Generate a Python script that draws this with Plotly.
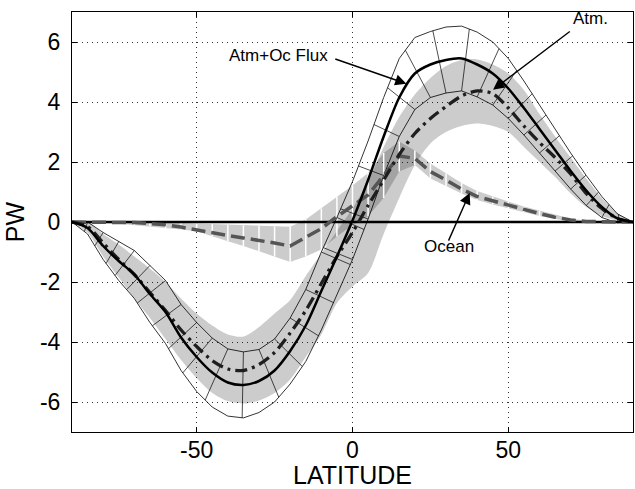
import math
import plotly.graph_objects as go

# ---------------- data ----------------
lat = list(range(-90, 91, 5))

total = [0, -0.2, -0.8, -1.3, -1.75, -2.4, -3.0, -3.85, -4.5, -5.02, -5.35, -5.43, -5.3, -4.95,
         -4.3, -3.45, -2.3, -1.15, 0.05, 1.4, 2.85, 4.15, 4.95, 5.25, 5.4, 5.45, 5.25, 4.95,
         4.45, 3.8, 3.1, 2.4, 1.7, 1.05, 0.5, 0.12, 0]
total_lo = [0, -0.4, -1.25, -1.95, -2.55, -3.35, -4.05, -4.95, -5.65, -6.17, -6.47, -6.53, -6.35,
            -6.0, -5.4, -4.65, -3.6, -2.45, -1.25, 0.1, 1.55, 2.85, 3.75, 4.15, 4.3, 4.37, 4.17,
            3.9, 3.45, 2.9, 2.3, 1.7, 1.1, 0.55, 0.15, -0.03, 0]
total_hi = [0, 0.0, -0.35, -0.65, -0.95, -1.45, -1.95, -2.75, -3.35, -3.87, -4.23, -4.33, -4.25,
            -3.9, -3.2, -2.25, -1.0, 0.15, 1.35, 2.7, 4.15, 5.45, 6.15, 6.35, 6.5, 6.53, 6.33,
            6.0, 5.45, 4.7, 3.9, 3.1, 2.3, 1.55, 0.85, 0.27, 0]

atm = [0, -0.15, -0.7, -1.25, -1.75, -2.35, -2.95, -3.6, -4.15, -4.62, -4.9, -4.95, -4.75, -4.35,
       -3.7, -2.95, -2.05, -1.15, -0.35, 0.55, 1.4, 2.25, 2.95, 3.45, 3.85, 4.2, 4.37, 4.28,
       3.8, 3.2, 2.65, 2.15, 1.6, 0.95, 0.45, 0.12, 0]
atm_lo = [0, -0.35, -1.15, -1.85, -2.55, -3.2, -3.9, -4.6, -5.2, -5.7, -5.97, -6.05, -5.95, -5.7,
          -5.25, -4.5, -3.75, -2.7, -2.15, -1.7, -0.4, 0.8, 1.9, 2.62, 3.0, 3.2, 3.28, 3.2,
          3.0, 2.5, 2.0, 1.5, 0.95, 0.5, 0.2, 0.05, 0]
atm_hi = [0, 0, -0.4, -0.75, -1.15, -1.55, -2.0, -2.55, -3.05, -3.45, -3.75, -3.82, -3.5, -3.05,
          -2.6, -1.8, -1.05, -0.3, 0.45, 1.35, 2.5, 3.5, 4.25, 4.8, 5.2, 5.4, 5.42, 5.25,
          4.95, 4.4, 3.6, 2.85, 2.15, 1.45, 0.8, 0.3, 0]

ocean = [0, 0, 0, 0, -0.02, -0.05, -0.09, -0.17, -0.27, -0.36, -0.45, -0.53, -0.61, -0.7,
         -0.8, -0.52, -0.22, 0.18, 0.55, 0.9, 1.55, 2.2, 2.12, 1.68, 1.4, 1.1, 0.85, 0.7,
         0.55, 0.4, 0.28, 0.16, 0.07, 0.02, 0, 0, 0]
ocean_lo = [0, -0.01, -0.03, -0.06, -0.1, -0.15, -0.2, -0.25, -0.31, -0.47, -0.64, -0.8, -0.98,
            -1.15, -1.33, -1.15, -0.92, -0.48, -0.1, 0.19, 0.8, 1.68, 1.9, 1.45, 1.2, 0.95, 0.73,
            0.58, 0.44, 0.32, 0.2, 0.1, 0.03, 0.0, 0, 0, 0]
ocean_hi = [0, 0, 0, 0, 0, 0, -0.01, -0.03, -0.05, -0.07, -0.09, -0.11, -0.13, -0.15, -0.16,
            0.08, 0.45, 0.83, 1.22, 1.63, 2.3, 2.68, 2.38, 1.95, 1.62, 1.3, 1.03, 0.85, 0.68,
            0.52, 0.38, 0.24, 0.12, 0.04, 0.01, 0, 0]

x_ticks = [-50, 0, 50]
x_ticktext = ["-50", "0", "50"]
y_ticks = [-6, -4, -2, 0, 2, 4, 6]
y_ticktext = ["-6", "-4", "-2", "0", "2", "4", "6"]

# labels: (text, text_lat, text_val, tail_lat, tail_val, head_lat, head_val)
labels = [
    ("Atm+Oc Flux", -23.9, 5.56, -6.0, 5.45, 17.3, 4.61),
    ("Atm.", 76.4, 6.8, 70.2, 6.39, 45.1, 4.41),
    ("Ocean", 30.9, -0.81, 30.6, -0.67, 37.6, 0.97),
]

FONT = "Liberation Sans, Arial, sans-serif"
X_RANGE = [-90, 90]
Y_RANGE = [-7, 7]
PLOT_W, PLOT_H = 561, 420  # plot-area size in px (used only to orient hatch ticks)

fig = go.Figure()

# Atm uncertainty band (gray, no edges)
fig.add_trace(go.Scatter(x=lat + lat[::-1], y=atm_hi + atm_lo[::-1], fill="toself",
                         fillcolor="rgba(0,0,0,0.2)", mode="lines",
                         line=dict(width=0, shape="spline", smoothing=0.8),
                         hoverinfo="skip", showlegend=False))

# Ocean uncertainty band (gray with white quad edges)
fig.add_trace(go.Scatter(x=lat + lat[::-1], y=ocean_hi + ocean_lo[::-1], fill="toself",
                         fillcolor="rgba(0,0,0,0.2)", mode="lines", line=dict(width=0),
                         hoverinfo="skip", showlegend=False))
wx, wy = [], []
for i, la in enumerate(lat):
    if abs(ocean_hi[i] - ocean_lo[i]) > 0.02:
        wx += [la, la, None]
        wy += [ocean_lo[i], ocean_hi[i], None]
fig.add_trace(go.Scatter(x=wx, y=wy, mode="lines", line=dict(color="white", width=1.5),
                         hoverinfo="skip", showlegend=False))

# Atm+Oc band: thin outlines
fig.add_trace(go.Scatter(x=lat, y=total_hi, mode="lines", line=dict(color="black", width=0.8),
                         hoverinfo="skip", showlegend=False))
fig.add_trace(go.Scatter(x=lat, y=total_lo, mode="lines", line=dict(color="black", width=0.8),
                         hoverinfo="skip", showlegend=False))

# hatch ticks: from each inner-edge point, perpendicular (in screen space) to the outer edge
sx = PLOT_W / (X_RANGE[1] - X_RANGE[0])
sy = PLOT_H / (Y_RANGE[1] - Y_RANGE[0])


def to_px(la, v):
    return la * sx, v * sy


def ray_hit(p, d, poly):
    best = None
    for k in range(len(poly) - 1):
        a, b = poly[k], poly[k + 1]
        ex, ey = b[0] - a[0], b[1] - a[1]
        den = d[0] * ey - d[1] * ex
        if abs(den) < 1e-9:
            continue
        t = ((a[0] - p[0]) * ey - (a[1] - p[1]) * ex) / den
        u = ((a[0] - p[0]) * d[1] - (a[1] - p[1]) * d[0]) / den
        if t > 0.5 and -1e-6 <= u <= 1 + 1e-6 and (best is None or t < best):
            best = t
    return best


hx, hy = [], []
n = len(lat)
for i in range(1, n - 1):
    pos = total[i] > 0
    inner = total_lo if pos else total_hi
    outer = total_hi if pos else total_lo
    inner_px = [to_px(lat[k], inner[k]) for k in range(n)]
    outer_px = [to_px(lat[k], outer[k]) for k in range(n)]
    p = inner_px[i]
    tx = inner_px[i + 1][0] - inner_px[i - 1][0]
    ty = inner_px[i + 1][1] - inner_px[i - 1][1]
    L = math.hypot(tx, ty)
    nx, ny = -ty / L, tx / L
    if (outer_px[i][1] - p[1]) * ny + (outer_px[i][0] - p[0]) * nx < 0:
        nx, ny = -nx, -ny
    t = ray_hit(p, (nx, ny), outer_px)
    if t is None or t > 90:
        continue
    q = (p[0] + t * nx, p[1] + t * ny)
    hx += [p[0] / sx, q[0] / sx, None]
    hy += [p[1] / sy, q[1] / sy, None]
fig.add_trace(go.Scatter(x=hx, y=hy, mode="lines", line=dict(color="black", width=0.7),
                         hoverinfo="skip", showlegend=False))

# zero line
fig.add_trace(go.Scatter(x=[lat[0], lat[-1]], y=[0, 0], mode="lines",
                         line=dict(color="black", width=2.5), hoverinfo="skip", showlegend=False))

# Ocean mean (dashed gray)
fig.add_trace(go.Scatter(x=lat, y=ocean, mode="lines",
                         line=dict(color="#555555", width=3.5, dash="14px,6px"),
                         showlegend=False))
# Atm mean (dash-dot)
fig.add_trace(go.Scatter(x=lat, y=atm, mode="lines",
                         line=dict(color="#1e1e1e", width=3.3, dash="12px,5px,3px,5px",
                                   shape="spline", smoothing=0.8),
                         showlegend=False))
# Atm+Oc mean (thick black)
fig.add_trace(go.Scatter(x=lat, y=total, mode="lines",
                         line=dict(color="black", width=2.5, shape="spline", smoothing=0.8),
                         showlegend=False))

for text, tx_, ty_, ax, ay, hx_, hy_ in labels:
    fig.add_annotation(x=tx_, y=ty_, text=text, showarrow=False,
                       font=dict(family=FONT, size=17, color="black"))
    fig.add_annotation(x=hx_, y=hy_, ax=ax, ay=ay, xref="x", yref="y", axref="x", ayref="y",
                       text="", showarrow=True, arrowhead=2, arrowsize=1.6, arrowwidth=1.4,
                       arrowcolor="black")

axis_common = dict(showline=True, linecolor="black", linewidth=1, mirror="ticks",
                   ticks="inside", ticklen=5, tickcolor="black", tickwidth=1,
                   showgrid=True, gridcolor="#333333", gridwidth=1, griddash="1px,4px",
                   zeroline=False, automargin=False,
                   tickfont=dict(family=FONT, size=23, color="black"))

fig.update_xaxes(range=X_RANGE, tickvals=x_ticks, ticktext=x_ticktext,
                 title=dict(text="LATITUDE", font=dict(family=FONT, size=25, color="black"),
                            standoff=10),
                 ticklabelstandoff=-3, **axis_common)
fig.update_yaxes(range=Y_RANGE, tickvals=y_ticks, ticktext=y_ticktext,
                 title=dict(text="PW", font=dict(family=FONT, size=25, color="black"),
                            standoff=8),
                 ticklabelstandoff=6, **axis_common)

fig.update_layout(width=635, height=489, margin=dict(l=72, r=2, t=12, b=57, autoexpand=False),
                  paper_bgcolor="white", plot_bgcolor="white", showlegend=False,
                  font=dict(family=FONT))

fig.write_html("out.html", config={"displayModeBar": False},
               post_script="document.body.style.margin='0px';document.body.style.padding='0px';")
